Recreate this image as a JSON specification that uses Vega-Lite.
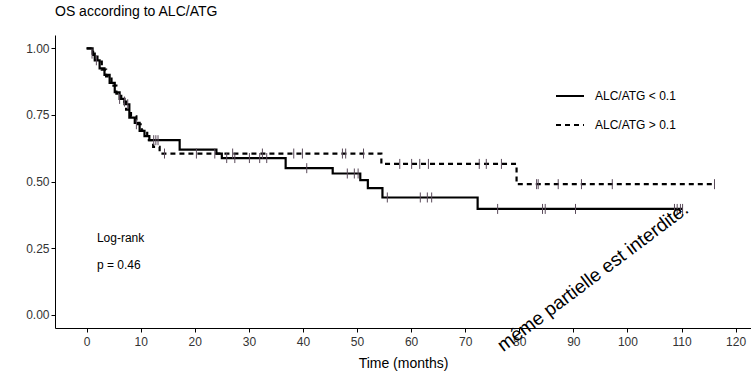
{
  "$schema": "https://vega.github.io/schema/vega-lite/v6.json",
  "width": 696,
  "height": 293,
  "autosize": {"type": "none"},
  "padding": {"left": 55, "top": 35, "right": 0, "bottom": 44},
  "background": "white",
  "config": {
    "font": "Liberation Sans",
    "view": {"stroke": null},
    "axis": {"grid": false, "domainColor": "black", "tickColor": "black", "labelColor": "#333333", "labelFontSize": 12, "titleFontWeight": "normal", "titleColor": "black", "tickSize": 4, "domainWidth": 1}
  },
  "title": {"text": "OS according to ALC/ATG", "anchor": "start", "fontSize": 14, "fontWeight": "normal", "color": "black", "offset": 16, "frame": "group"},
  "datasets": {
    "curves": [
      {"group": "ALC/ATG < 0.1", "t": 0, "S": 1.0},
      {"group": "ALC/ATG < 0.1", "t": 1.1, "S": 0.98},
      {"group": "ALC/ATG < 0.1", "t": 1.5, "S": 0.955},
      {"group": "ALC/ATG < 0.1", "t": 2.4, "S": 0.925},
      {"group": "ALC/ATG < 0.1", "t": 3.3, "S": 0.9},
      {"group": "ALC/ATG < 0.1", "t": 4.25, "S": 0.87},
      {"group": "ALC/ATG < 0.1", "t": 5.2, "S": 0.835},
      {"group": "ALC/ATG < 0.1", "t": 6.1, "S": 0.81},
      {"group": "ALC/ATG < 0.1", "t": 7.0, "S": 0.79},
      {"group": "ALC/ATG < 0.1", "t": 7.9, "S": 0.74},
      {"group": "ALC/ATG < 0.1", "t": 8.9, "S": 0.72},
      {"group": "ALC/ATG < 0.1", "t": 9.8, "S": 0.69},
      {"group": "ALC/ATG < 0.1", "t": 10.7, "S": 0.67},
      {"group": "ALC/ATG < 0.1", "t": 11.6, "S": 0.655},
      {"group": "ALC/ATG < 0.1", "t": 17.2, "S": 0.62},
      {"group": "ALC/ATG < 0.1", "t": 24.0, "S": 0.605},
      {"group": "ALC/ATG < 0.1", "t": 25.0, "S": 0.588},
      {"group": "ALC/ATG < 0.1", "t": 36.8, "S": 0.55},
      {"group": "ALC/ATG < 0.1", "t": 45.5, "S": 0.53},
      {"group": "ALC/ATG < 0.1", "t": 50.6, "S": 0.505},
      {"group": "ALC/ATG < 0.1", "t": 52.0, "S": 0.475},
      {"group": "ALC/ATG < 0.1", "t": 54.7, "S": 0.44},
      {"group": "ALC/ATG < 0.1", "t": 72.3, "S": 0.397},
      {"group": "ALC/ATG < 0.1", "t": 110.2, "S": 0.397},
      {"group": "ALC/ATG > 0.1", "t": 0, "S": 1.0},
      {"group": "ALC/ATG > 0.1", "t": 1.2, "S": 0.975},
      {"group": "ALC/ATG > 0.1", "t": 2.0, "S": 0.95},
      {"group": "ALC/ATG > 0.1", "t": 2.8, "S": 0.92},
      {"group": "ALC/ATG > 0.1", "t": 3.6, "S": 0.895},
      {"group": "ALC/ATG > 0.1", "t": 4.6, "S": 0.86},
      {"group": "ALC/ATG > 0.1", "t": 5.5, "S": 0.83},
      {"group": "ALC/ATG > 0.1", "t": 6.4, "S": 0.8},
      {"group": "ALC/ATG > 0.1", "t": 7.3, "S": 0.77},
      {"group": "ALC/ATG > 0.1", "t": 8.2, "S": 0.745},
      {"group": "ALC/ATG > 0.1", "t": 9.2, "S": 0.715},
      {"group": "ALC/ATG > 0.1", "t": 10.2, "S": 0.69},
      {"group": "ALC/ATG > 0.1", "t": 11.2, "S": 0.655},
      {"group": "ALC/ATG > 0.1", "t": 12.3, "S": 0.63},
      {"group": "ALC/ATG > 0.1", "t": 13.5, "S": 0.605},
      {"group": "ALC/ATG > 0.1", "t": 54.5, "S": 0.566},
      {"group": "ALC/ATG > 0.1", "t": 79.5, "S": 0.49},
      {"group": "ALC/ATG > 0.1", "t": 116.1, "S": 0.49}
    ],
    "censors": [
      {"group": "ALC/ATG < 0.1", "t": 1.0, "S": 0.98},
      {"group": "ALC/ATG < 0.1", "t": 1.8, "S": 0.955},
      {"group": "ALC/ATG < 0.1", "t": 6.1, "S": 0.81},
      {"group": "ALC/ATG < 0.1", "t": 7.6, "S": 0.79},
      {"group": "ALC/ATG < 0.1", "t": 12.4, "S": 0.655},
      {"group": "ALC/ATG < 0.1", "t": 12.8, "S": 0.655},
      {"group": "ALC/ATG < 0.1", "t": 13.2, "S": 0.655},
      {"group": "ALC/ATG < 0.1", "t": 25.9, "S": 0.588},
      {"group": "ALC/ATG < 0.1", "t": 27.4, "S": 0.588},
      {"group": "ALC/ATG < 0.1", "t": 30.1, "S": 0.588},
      {"group": "ALC/ATG < 0.1", "t": 32.0, "S": 0.588},
      {"group": "ALC/ATG < 0.1", "t": 33.3, "S": 0.588},
      {"group": "ALC/ATG < 0.1", "t": 40.7, "S": 0.55},
      {"group": "ALC/ATG < 0.1", "t": 48.2, "S": 0.53},
      {"group": "ALC/ATG < 0.1", "t": 49.5, "S": 0.53},
      {"group": "ALC/ATG < 0.1", "t": 50.2, "S": 0.53},
      {"group": "ALC/ATG < 0.1", "t": 55.6, "S": 0.44},
      {"group": "ALC/ATG < 0.1", "t": 61.7, "S": 0.44},
      {"group": "ALC/ATG < 0.1", "t": 63.0, "S": 0.44},
      {"group": "ALC/ATG < 0.1", "t": 63.8, "S": 0.44},
      {"group": "ALC/ATG < 0.1", "t": 76.0, "S": 0.397},
      {"group": "ALC/ATG < 0.1", "t": 84.3, "S": 0.397},
      {"group": "ALC/ATG < 0.1", "t": 84.8, "S": 0.397},
      {"group": "ALC/ATG < 0.1", "t": 90.4, "S": 0.397},
      {"group": "ALC/ATG < 0.1", "t": 108.7, "S": 0.397},
      {"group": "ALC/ATG < 0.1", "t": 109.2, "S": 0.397},
      {"group": "ALC/ATG < 0.1", "t": 109.8, "S": 0.397},
      {"group": "ALC/ATG < 0.1", "t": 110.2, "S": 0.397},
      {"group": "ALC/ATG > 0.1", "t": 7.0, "S": 0.8},
      {"group": "ALC/ATG > 0.1", "t": 9.2, "S": 0.715},
      {"group": "ALC/ATG > 0.1", "t": 14.4, "S": 0.605},
      {"group": "ALC/ATG > 0.1", "t": 20.3, "S": 0.605},
      {"group": "ALC/ATG > 0.1", "t": 23.7, "S": 0.605},
      {"group": "ALC/ATG > 0.1", "t": 27.0, "S": 0.605},
      {"group": "ALC/ATG > 0.1", "t": 32.5, "S": 0.605},
      {"group": "ALC/ATG > 0.1", "t": 38.3, "S": 0.605},
      {"group": "ALC/ATG > 0.1", "t": 39.9, "S": 0.605},
      {"group": "ALC/ATG > 0.1", "t": 47.3, "S": 0.605},
      {"group": "ALC/ATG > 0.1", "t": 47.9, "S": 0.605},
      {"group": "ALC/ATG > 0.1", "t": 51.2, "S": 0.605},
      {"group": "ALC/ATG > 0.1", "t": 57.9, "S": 0.566},
      {"group": "ALC/ATG > 0.1", "t": 60.1, "S": 0.566},
      {"group": "ALC/ATG > 0.1", "t": 61.6, "S": 0.566},
      {"group": "ALC/ATG > 0.1", "t": 63.2, "S": 0.566},
      {"group": "ALC/ATG > 0.1", "t": 72.6, "S": 0.566},
      {"group": "ALC/ATG > 0.1", "t": 73.9, "S": 0.566},
      {"group": "ALC/ATG > 0.1", "t": 76.7, "S": 0.566},
      {"group": "ALC/ATG > 0.1", "t": 83.2, "S": 0.49},
      {"group": "ALC/ATG > 0.1", "t": 83.5, "S": 0.49},
      {"group": "ALC/ATG > 0.1", "t": 87.2, "S": 0.49},
      {"group": "ALC/ATG > 0.1", "t": 91.5, "S": 0.49},
      {"group": "ALC/ATG > 0.1", "t": 97.2, "S": 0.49},
      {"group": "ALC/ATG > 0.1", "t": 116.1, "S": 0.49}
    ],
    "notes": [
      {"t": 1.9, "S": 0.288, "label": "Log-rank"},
      {"t": 1.9, "S": 0.187, "label": "p = 0.46"}
    ],
    "mark": [
      {"t": 93.6, "S": 0.141, "label": "même partielle est interdite."}
    ]
  },
  "encoding": {
    "x": {"field": "t", "type": "quantitative", "scale": {"domain": [-5.85, 122.85], "nice": false, "zero": false},
      "axis": {"values": [0, 10, 20, 30, 40, 50, 60, 70, 80, 90, 100, 110, 120], "title": "Time (months)", "titleFontSize": 14, "titlePadding": 9, "labelPadding": 4}},
    "y": {"field": "S", "type": "quantitative", "scale": {"domain": [-0.05, 1.05], "nice": false, "zero": false},
      "axis": {"values": [0, 0.25, 0.5, 0.75, 1], "format": ".2f", "title": null, "labelPadding": 2}}
  },
  "layer": [
    {
      "data": {"name": "curves"},
      "mark": {"type": "line", "interpolate": "step-after", "color": "black", "strokeWidth": 2.2},
      "encoding": {
        "detail": {"field": "group"},
        "strokeDash": {"field": "group", "type": "nominal",
          "scale": {"domain": ["ALC/ATG < 0.1", "ALC/ATG > 0.1"], "range": [[1, 0], [5, 4]]},
          "legend": {"title": null, "orient": "none", "legendX": 500, "legendY": 46, "symbolType": "stroke", "symbolSize": 784, "symbolStrokeWidth": 2, "symbolStrokeColor": "black", "labelFontSize": 12, "labelColor": "black", "rowPadding": 8, "labelOffset": 10}}
      }
    },
    {
      "data": {"name": "censors"},
      "mark": {"type": "point", "shape": "M0,-1V1", "size": 100, "strokeWidth": 1, "color": "#5a4a5a", "filled": false, "opacity": 1}
    },
    {
      "data": {"name": "notes"},
      "mark": {"type": "text", "align": "left", "baseline": "middle", "fontSize": 12, "color": "black"},
      "encoding": {"text": {"field": "label"}}
    },
    {
      "data": {"name": "mark"},
      "mark": {"type": "text", "align": "center", "baseline": "middle", "fontSize": 19, "angle": -37, "color": "black"},
      "encoding": {"text": {"field": "label"}}
    }
  ]
}
